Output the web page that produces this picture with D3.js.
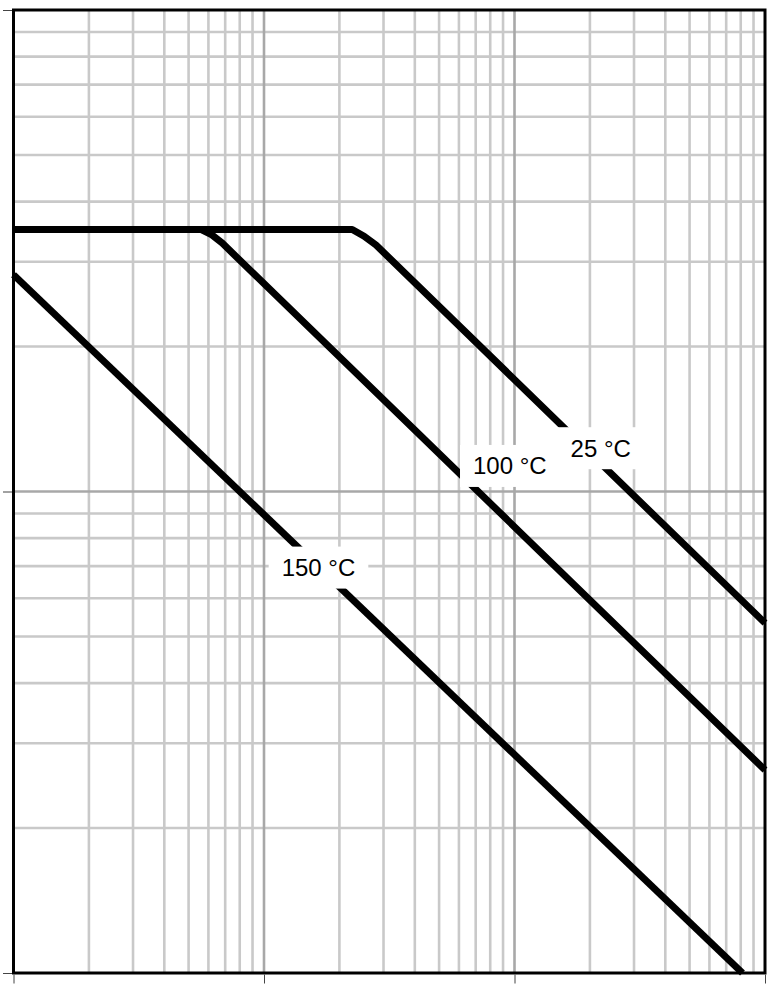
<!DOCTYPE html>
<html>
<head>
<meta charset="utf-8">
<script src="https://cdn.jsdelivr.net/npm/d3@7"></script>
<style>
  html, body { margin: 0; padding: 0; background: #fff; }
  svg { display: block; }
</style>
</head>
<body>
<svg id="chart" width="772" height="984"></svg>
<script>
// ---- data (log-log, arbitrary units; no axis labels in the reference) ----
const xDomain = [1, 1000];
const yDomain = [1, 100];
const xTickValues = [1, 10, 100, 1000];
const yTickValues = [1, 10, 100];

const series25 = [
  [1, 35], [22.5, 35], [25.1, 33.9], [28.0, 32.5], [1000, 5.33]
];
const series100 = [
  [1, 35], [5.62, 35], [6.2, 34.1], [6.81, 32.8], [1000, 2.64]
];
const series150 = [
  [1, 28.2], [813, 1]
];
const seriesList = [series25, series100, series150];

const labelTexts = ["25 °C", "100 °C", "150 °C"];
const labelAnchors = [[220.9, 12.3], [95.8, 11.3], [16.5, 6.95]];

(function () {
  // ---- layout ----
  const pL = 13.5, pR = 765, pT = 10, pB = 973;

  const svg = d3.select("#chart");
  const x = d3.scaleLog().domain(xDomain).range([pL, pR]);
  const y = d3.scaleLog().domain(yDomain).range([pB, pT]);

  const isMajor = v => Math.abs(Math.log10(v) - Math.round(Math.log10(v))) < 1e-9;

  // grid
  const grid = svg.append("g");
  const xt = x.ticks().filter(v => v > xDomain[0] && v < xDomain[1]);
  const yt = y.ticks().filter(v => v > yDomain[0] && v < yDomain[1]);
  const gw = 2.6;
  grid.selectAll("line.xminor").data(xt.filter(v => !isMajor(v))).enter().append("line")
    .attr("x1", d => x(d)).attr("x2", d => x(d)).attr("y1", pT).attr("y2", pB)
    .attr("stroke", "#c9c9c9").attr("stroke-width", gw);
  grid.selectAll("line.yminor").data(yt.filter(v => !isMajor(v))).enter().append("line")
    .attr("y1", d => y(d)).attr("y2", d => y(d)).attr("x1", pL).attr("x2", pR)
    .attr("stroke", "#c9c9c9").attr("stroke-width", gw);
  grid.selectAll("line.xmajor").data(xt.filter(isMajor)).enter().append("line")
    .attr("x1", d => x(d)).attr("x2", d => x(d)).attr("y1", pT).attr("y2", pB)
    .attr("stroke", "#a8a8a8").attr("stroke-width", gw);
  grid.selectAll("line.ymajor").data(yt.filter(isMajor)).enter().append("line")
    .attr("y1", d => y(d)).attr("y2", d => y(d)).attr("x1", pL).attr("x2", pR)
    .attr("stroke", "#a8a8a8").attr("stroke-width", gw);

  // curves
  const line = d3.line().x(d => x(d[0])).y(d => y(d[1]));
  svg.append("g").selectAll("path").data(seriesList).enter().append("path")
    .attr("d", line)
    .attr("fill", "none")
    .attr("stroke", "#000")
    .attr("stroke-width", 7)
    .attr("stroke-linejoin", "round");

  // labels with white boxes
  const lg = svg.append("g");
  labelTexts.forEach((t, i) => {
    const cx = x(labelAnchors[i][0]), cy = y(labelAnchors[i][1]);
    const g = lg.append("g");
    const rect = g.append("rect").attr("fill", "#fff");
    const txt = g.append("text")
      .attr("x", cx).attr("y", cy)
      .attr("text-anchor", "middle")
      .attr("dominant-baseline", "central")
      .attr("font-family", "'Liberation Sans', Arial, Helvetica, sans-serif")
      .attr("font-size", 24)
      .attr("fill", "#000")
      .text(t);
    const bb = txt.node().getBBox();
    const padX = 13, h = 42;
    rect.attr("x", bb.x - padX).attr("y", cy - h / 2)
        .attr("width", bb.width + 2 * padX).attr("height", h);
  });

  // frame
  svg.append("rect")
    .attr("x", pL).attr("y", pT)
    .attr("width", pR - pL).attr("height", pB - pT)
    .attr("fill", "none").attr("stroke", "#000").attr("stroke-width", 3);

  // ticks
  const axL = svg.append("g").attr("transform", `translate(${pL - 1.5},0)`)
    .call(d3.axisLeft(y).tickValues(yTickValues).tickFormat("").tickSize(9).tickSizeOuter(0));
  const axB = svg.append("g").attr("transform", `translate(0,${pB + 1.5})`)
    .call(d3.axisBottom(x).tickValues(xTickValues).tickFormat("").tickSize(9).tickSizeOuter(0));
  [axL, axB].forEach(a => {
    a.select(".domain").remove();
    a.selectAll(".tick line").attr("stroke", "#444").attr("stroke-width", 1);
  });
})();
</script>
</body>
</html>
